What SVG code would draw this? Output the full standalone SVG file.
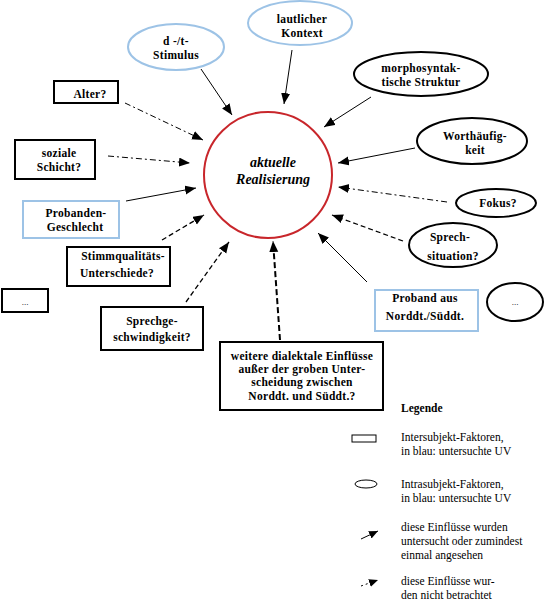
<svg xmlns="http://www.w3.org/2000/svg" width="545" height="616" viewBox="0 0 545 616" font-family="'Liberation Serif', 'DejaVu Serif', serif">
<defs>
<marker id="ah" markerUnits="userSpaceOnUse" markerWidth="12" markerHeight="10" refX="11" refY="4.5" orient="auto"><path d="M0,0 L11,4.5 L0,9 z" fill="#000"/></marker>
<marker id="ahs" markerUnits="userSpaceOnUse" markerWidth="10" markerHeight="9" refX="9" refY="4" orient="auto"><path d="M0,0 L9,4 L0,8 z" fill="#000"/></marker>
</defs>
<style>
text{font-family:'Liberation Serif','DejaVu Serif',serif;fill:#000}
.n{font-size:11.5px;font-weight:bold;text-anchor:middle;letter-spacing:0.3px}
.l{font-size:11.5px}
.bk{fill:#fff;stroke:#000;stroke-width:2}
.bl{fill:#fff;stroke:#9dc3e6;stroke-width:2}
.c{fill:none;stroke:#000;stroke-width:1;marker-end:url(#ah)}
.d1{stroke-dasharray:6 3 2 3}
.d2{stroke-dasharray:5 3;stroke-width:1.3}
.d3{stroke-dasharray:6 3;stroke-width:2}
</style>
<g id="connectors">
<line class="c" x1="201" y1="69" x2="232" y2="115"/>
<line class="c" x1="292" y1="50" x2="284" y2="104"/>
<line class="c" x1="371" y1="97" x2="324" y2="127"/>
<line class="c" x1="415" y1="148" x2="338" y2="163"/>
<line class="c d1" x1="447" y1="202" x2="338" y2="187"/>
<line class="c d2" x1="403" y1="241" x2="332" y2="215"/>
<line class="c" x1="367" y1="282" x2="318" y2="233"/>
<line class="c d3" x1="280" y1="340" x2="273" y2="241"/>
<line class="c d2" x1="186" y1="302" x2="229" y2="242"/>
<line class="c d2" x1="162" y1="240" x2="204" y2="215"/>
<line class="c" x1="126" y1="201" x2="196" y2="188"/>
<line class="c d1" x1="108" y1="156" x2="190" y2="163"/>
<line class="c d1" x1="125" y1="103" x2="203" y2="140"/>
</g>
<g id="center">
<ellipse cx="268" cy="175" rx="64" ry="63" fill="#fff" stroke="#c8262b" stroke-width="2"/>
<text x="273" y="167" font-size="14" font-weight="bold" font-style="italic" text-anchor="middle">aktuelle</text>
<text x="273" y="184" font-size="14" font-weight="bold" font-style="italic" text-anchor="middle">Realisierung</text>
</g>
<g id="stimulus">
<ellipse class="bl" cx="176" cy="47" rx="48" ry="23"/>
<text class="n" x="176" y="45">d -/t-</text>
<text class="n" x="176" y="59">Stimulus</text>
</g>
<g id="kontext">
<ellipse class="bl" cx="300" cy="23" rx="52" ry="22"/>
<text class="n" x="302" y="23">lautlicher</text>
<text class="n" x="302" y="37">Kontext</text>
</g>
<g id="morpho">
<ellipse class="bk" cx="421" cy="74" rx="67" ry="22"/>
<text class="n" x="421" y="72">morphosyntak-</text>
<text class="n" x="421" y="86">tische Struktur</text>
</g>
<g id="worth">
<ellipse class="bk" cx="472" cy="141" rx="55" ry="23"/>
<text class="n" x="475" y="140">Worthäufig-</text>
<text class="n" x="475" y="154">keit</text>
</g>
<g id="fokus">
<ellipse class="bk" cx="496" cy="203" rx="40" ry="14"/>
<text class="n" x="498" y="207">Fokus?</text>
</g>
<g id="situation">
<ellipse class="bk" cx="453" cy="245" rx="44" ry="22"/>
<text class="n" x="450" y="241">Sprech-</text>
<text class="n" x="453" y="260">situation?</text>
</g>
<g id="dots-right">
<ellipse class="bk" cx="515" cy="302" rx="28" ry="19"/>
<text x="515" y="305" font-size="9" text-anchor="middle">...</text>
</g>
<g id="proband-aus">
<rect class="bl" x="375" y="290" width="103" height="41"/>
<text class="n" x="425" y="302">Proband aus</text>
<text class="n" x="425" y="320">Norddt./Süddt.</text>
</g>
<g id="alter">
<rect class="bk" x="54" y="81" width="64" height="22"/>
<text class="n" x="90" y="98">Alter?</text>
</g>
<g id="schicht">
<rect class="bk" x="15" y="140" width="80" height="39"/>
<text class="n" x="59" y="157">soziale</text>
<text class="n" x="59" y="171">Schicht?</text>
</g>
<g id="geschlecht">
<rect class="bl" x="23" y="201" width="96" height="37"/>
<text class="n" x="76" y="217">Probanden-</text>
<text class="n" x="75" y="231">Geschlecht</text>
</g>
<g id="stimmqualitaet">
<rect class="bk" x="67" y="247" width="103" height="39"/>
<text class="n" x="123" y="260">Stimmqualitäts-</text>
<text class="n" x="117" y="277">Unterschiede?</text>
</g>
<g id="dots-left">
<rect class="bk" x="2" y="289" width="46" height="23"/>
<text x="25" y="305" font-size="9" text-anchor="middle">...</text>
</g>
<g id="sprechgeschw">
<rect class="bk" x="101" y="307" width="102" height="43"/>
<text class="n" x="152" y="325">Sprechge-</text>
<text class="n" x="152" y="341">schwindigkeit?</text>
</g>
<g id="weitere">
<rect class="bk" x="220" y="342" width="163" height="68"/>
<text class="n" x="302" y="360">weitere dialektale Einflüsse</text>
<text class="n" x="302" y="373">außer der groben Unter-</text>
<text class="n" x="302" y="386">scheidung zwischen</text>
<text class="n" x="302" y="400">Norddt. und Süddt.?</text>
</g>
<g id="legend">
<text x="401" y="412" font-size="11.5" font-weight="bold">Legende</text>
<rect x="352" y="435" width="24" height="7" fill="#fff" stroke="#000" stroke-width="1"/>
<text class="l" x="401" y="441">Intersubjekt-Faktoren,</text>
<text class="l" x="401" y="455">in blau: untersuchte UV</text>
<ellipse cx="366" cy="484" rx="11" ry="4" fill="#fff" stroke="#000" stroke-width="1"/>
<text class="l" x="401" y="488">Intrasubjekt-Faktoren,</text>
<text class="l" x="401" y="502">in blau: untersuchte UV</text>
<line x1="361" y1="539" x2="378" y2="531" stroke="#000" stroke-width="1" marker-end="url(#ahs)"/>
<text class="l" x="401" y="531">diese Einflüsse wurden</text>
<text class="l" x="401" y="545">untersucht oder zumindest</text>
<text class="l" x="401" y="559">einmal angesehen</text>
<line x1="361" y1="586" x2="378" y2="580" stroke="#000" stroke-width="1" stroke-dasharray="2 3" marker-end="url(#ahs)"/>
<text class="l" x="401" y="585">diese Einflüsse wur-</text>
<text class="l" x="401" y="599">den nicht betrachtet</text>
</g>
</svg>
